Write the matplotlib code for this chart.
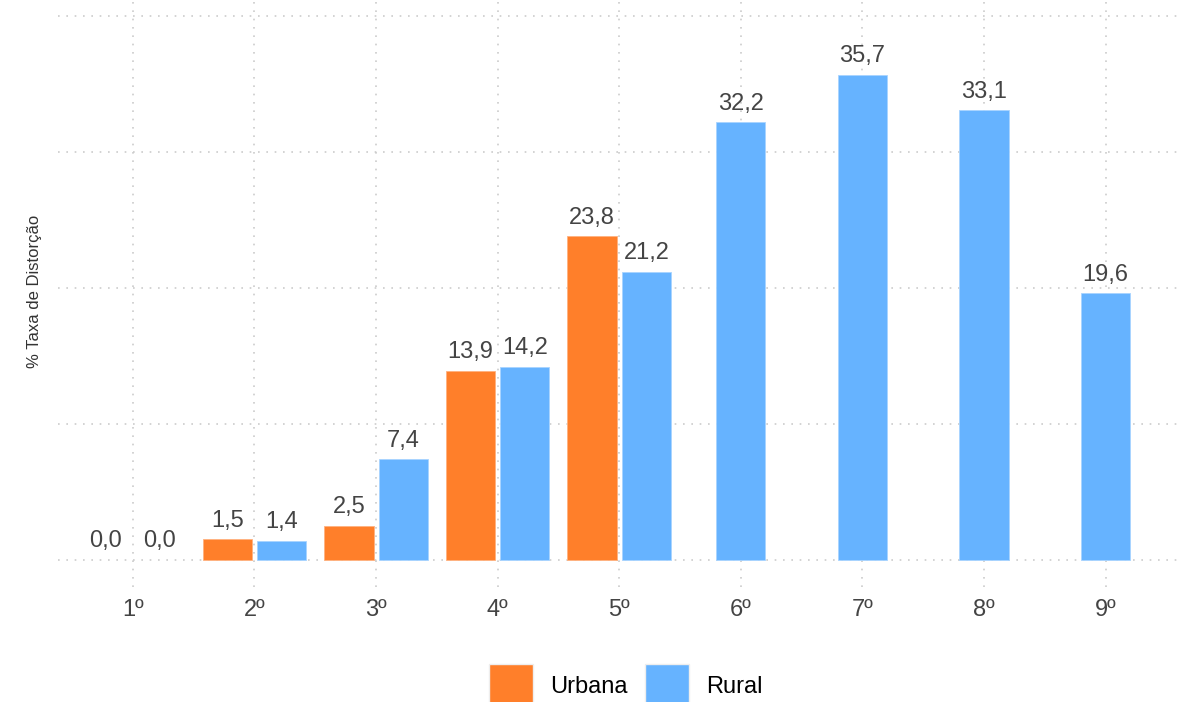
import numpy as np
import matplotlib.pyplot as plt
from matplotlib.patches import Patch

series = ["1º", "2º", "3º", "4º", "5º", "6º", "7º", "8º", "9º"]
urbana = [0.0, 1.5, 2.5, 13.9, 23.8, None, None, None, None]
rural = [0.0, 1.4, 7.4, 14.2, 21.2, 32.2, 35.7, 33.1, 19.6]

c_urb = "#ff7f2a"
c_rur = "#66b3ff"

plt.rcParams["font.family"] = ["Liberation Sans", "DejaVu Sans"]

fig = plt.figure(figsize=(11.92, 7.02), dpi=100)
ax = fig.add_axes([0.0487, 0.164, 0.939, 0.836])

x = np.arange(1, len(series) + 1)
w = 0.405
off = 0.223


def draw_bar(xp, v, color, edge):
    lw = 0.6 if v > 0 else 0
    ax.bar(xp, v, width=w, color=color, edgecolor=edge, linewidth=lw, zorder=3)
    ax.text(xp, v + 0.55, f"{v:.1f}".replace(".", ","), ha="center", va="bottom",
            fontsize=17, color="#444444")


for i, xi in enumerate(x):
    u = urbana[i]
    r = rural[i]
    if u is not None:
        draw_bar(xi - off, u, c_urb, "#ffb27f")
        draw_bar(xi + off, r, c_rur, "#a8d4ff")
    else:
        draw_bar(xi, r, c_rur, "#a8d4ff")

ax.set_xlim(0.385, 9.59)
ax.set_ylim(-2.0, 41.2)
ax.set_yticks([0, 10, 20, 30, 40])
ax.set_yticklabels([])
ax.set_xticks(x)
ax.set_xticklabels(series, fontsize=17, color="#444444")
ax.tick_params(length=0, pad=9)
ax.grid(True, color="#cccccc", linestyle=(0, (1, 4)), linewidth=1.2, zorder=0)
for s in ax.spines.values():
    s.set_visible(False)

fig.text(0.029, 0.585, "% Taxa de Distorção", rotation=90, ha="center", va="center",
         fontsize=12, color="#333333")

handles = [Patch(facecolor=c_urb, edgecolor="#eeeeee", label="Urbana"),
           Patch(facecolor=c_rur, edgecolor="#eeeeee", label="Rural")]
fig.legend(handles=handles, loc="upper center", bbox_to_anchor=(0.525, 0.054), ncol=2,
           frameon=False, fontsize=17, handlelength=1.87, handleheight=2.5,
           handletextpad=0.72, columnspacing=0.72, borderaxespad=0, borderpad=0)

fig.savefig("out.png", dpi=100)
